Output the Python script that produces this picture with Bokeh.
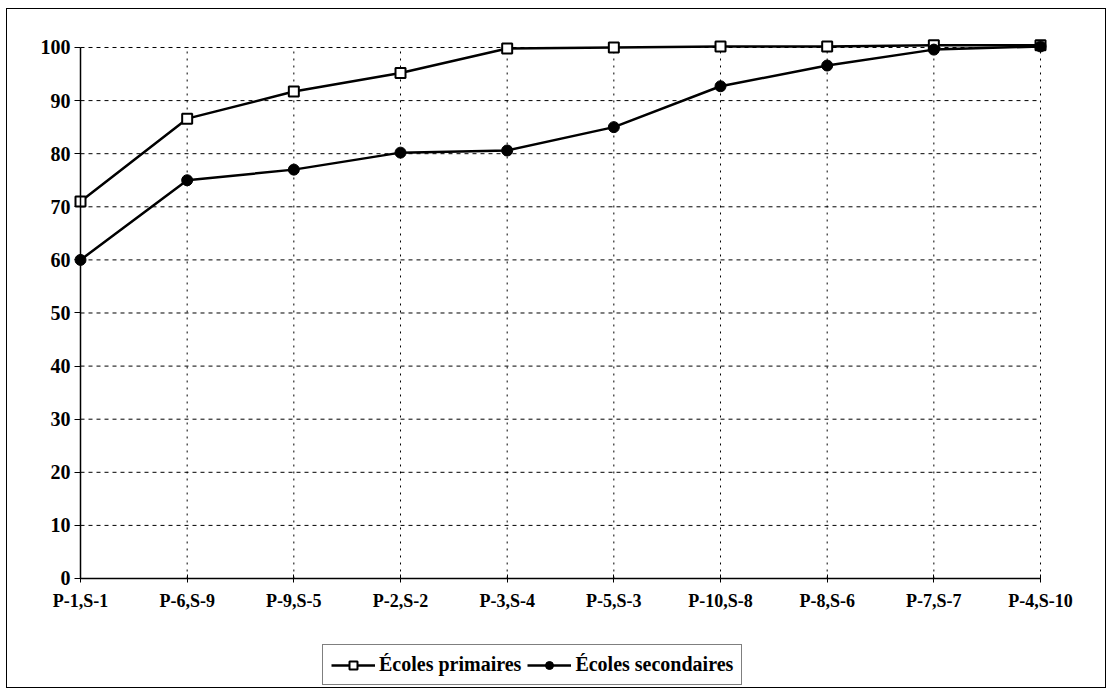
from bokeh.plotting import figure
from bokeh.models import Range1d, FixedTicker, Legend, LegendItem
from bokeh.embed import file_html
from bokeh.resources import INLINE

# Paired school codes along the horizontal axis
categories = ["P-1,S-1", "P-6,S-9", "P-9,S-5", "P-2,S-2", "P-3,S-4",
              "P-5,S-3", "P-10,S-8", "P-8,S-6", "P-7,S-7", "P-4,S-10"]
primaires = [71, 86.6, 91.7, 95.2, 99.8, 100, 100.2, 100.2, 100.4, 100.4]
secondaires = [60, 75, 77, 80.2, 80.6, 85, 92.7, 96.6, 99.6, 100.2]
y_ticks = [0, 10, 20, 30, 40, 50, 60, 70, 80, 90, 100]

xs = list(range(len(categories)))
x_last = xs[-1]
FONT = "Liberation Serif"

# The frame fills the canvas; axes sit at data zero so labels and legend stay unclipped
p = figure(width=1100, height=680, output_backend="svg", toolbar_location=None,
           x_range=Range1d(-0.6844, 9.628), y_range=Range1d(-20.904, 107.156),
           min_border=0)
p.styles = {"margin-left": "6px", "margin-top": "8px", "border": "1px solid black"}
p.outline_line_color = None
p.background_fill_color = "white"
p.border_fill_color = "white"
p.grid.visible = False

# Grid drawn only across the data area
p.segment(x0=0, y0=y_ticks[1:], x1=x_last, y1=y_ticks[1:],
          line_color="black", line_width=1, line_dash="4 4")
p.segment(x0=xs[1:], y0=0, x1=xs[1:], y1=y_ticks[-1],
          line_color="black", line_width=1, line_dash="2 5")

# Axes
p.yaxis.fixed_location = 0
p.yaxis.bounds = (0, y_ticks[-1])
p.yaxis.ticker = FixedTicker(ticks=y_ticks)
p.yaxis.axis_line_color = "black"
p.yaxis.axis_line_width = 1.5
p.yaxis.major_tick_in = 0
p.yaxis.major_tick_out = 6
p.yaxis.minor_tick_line_color = None
p.yaxis.major_tick_line_color = "black"
p.yaxis.major_label_text_font = FONT
p.yaxis.major_label_text_font_style = "bold"
p.yaxis.major_label_text_font_size = "20px"
p.yaxis.major_label_text_color = "black"
p.yaxis.major_label_standoff = 4

p.xaxis.fixed_location = 0
p.xaxis.bounds = (0, x_last)
p.xaxis.ticker = FixedTicker(ticks=xs)
p.xaxis.major_label_overrides = {i: c for i, c in enumerate(categories)}
p.xaxis.axis_line_color = "black"
p.xaxis.axis_line_width = 1.5
p.xaxis.major_tick_in = 4
p.xaxis.major_tick_out = 4
p.xaxis.minor_tick_line_color = None
p.xaxis.major_label_text_font = FONT
p.xaxis.major_label_text_font_style = "bold"
p.xaxis.major_label_text_font_size = "18px"
p.xaxis.major_label_text_color = "black"
p.xaxis.major_label_standoff = 9

# Series
l1 = p.line(xs, primaires, line_color="black", line_width=2.5)
m1 = p.scatter(xs, primaires, marker="square", size=10, fill_color="white",
               line_color="black", line_width=2)
l2 = p.line(xs, secondaires, line_color="black", line_width=2.5)
m2 = p.scatter(xs, secondaires, marker="circle", size=11, fill_color="black",
               line_color="black")

legend = Legend(items=[LegendItem(label="Écoles primaires", renderers=[l1, m1]),
                       LegendItem(label="Écoles secondaires", renderers=[l2, m2])],
                orientation="horizontal", location=(315, 4),
                label_text_font=FONT, label_text_font_style="bold",
                label_text_font_size="20px", label_text_color="black",
                border_line_color="black", border_line_width=1,
                glyph_width=44, spacing=6, padding=8, margin=0,
                label_standoff=4)
p.add_layout(legend)

open("out.html", "w").write(file_html(p, INLINE))
